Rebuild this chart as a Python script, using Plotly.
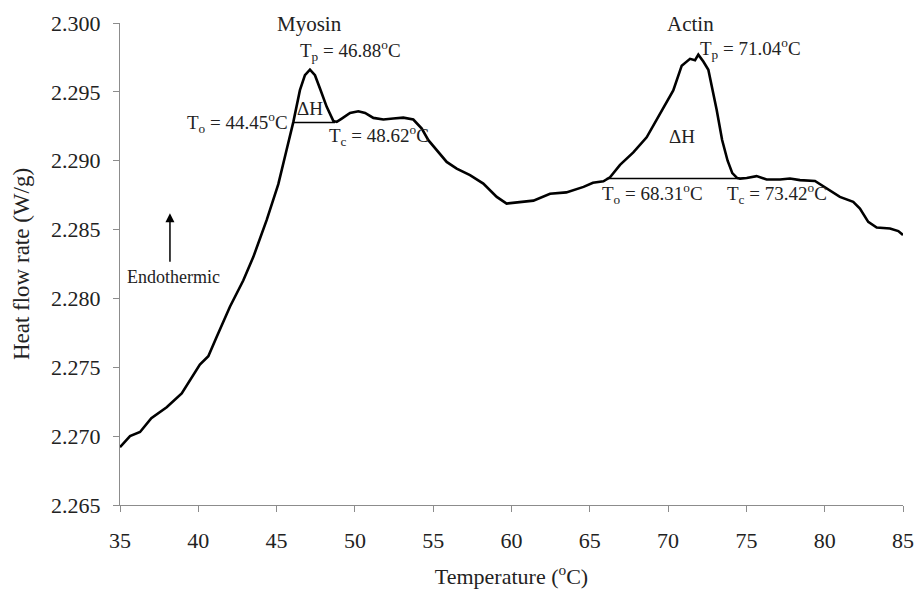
import plotly.graph_objects as go

temperature = [35.0, 35.64, 36.28, 37.0, 37.98, 38.94, 40.1, 40.64, 41.17, 42.02, 42.87, 43.51,
               44.37, 44.58, 45.11, 45.64, 46.07, 46.49, 46.81, 47.13, 47.45, 47.77, 48.2,
               48.62, 48.84, 49.16, 49.69, 50.22, 50.65, 51.18, 51.82, 52.45, 53.09, 53.73,
               54.27, 54.69, 55.22, 55.86, 56.5, 57.35, 58.2, 59.06, 59.69, 60.54, 61.4, 62.46,
               63.5, 64.6, 65.2, 65.87, 66.29, 66.93, 67.78, 68.63, 69.48, 70.33, 70.87, 71.4,
               71.72, 71.93, 72.25, 72.57, 73.1, 73.45, 73.8, 74.1, 74.4, 74.59, 75.02,
               75.65, 76.29, 77.15, 77.78, 78.42, 79.38, 80.12, 80.97, 81.82, 82.25, 82.78,
               83.32, 84.17, 84.7, 85.0]
heat_flow = [2.2692, 2.2700, 2.2703, 2.2713, 2.2721, 2.2731, 2.2752, 2.2758, 2.2772, 2.2794,
             2.2813, 2.2830, 2.2857, 2.2864, 2.2883, 2.2908, 2.29282, 2.29512,
             2.29621, 2.29661, 2.29621, 2.29524, 2.29391, 2.29289, 2.29282, 2.29306, 2.29347,
             2.29359, 2.29347, 2.29311, 2.29299, 2.29306, 2.29313, 2.29299, 2.29234, 2.29149,
             2.29076, 2.28991, 2.28943, 2.28895, 2.28834, 2.28737, 2.28689, 2.28701, 2.2871,
             2.2876, 2.2877, 2.2881, 2.2884, 2.2885, 2.2888, 2.2897, 2.2906, 2.2917, 2.2934,
             2.2951, 2.2969, 2.2974, 2.2973, 2.2977, 2.2972, 2.2966, 2.2937, 2.2915,
             2.2900, 2.2891, 2.28875, 2.2887, 2.28875, 2.28888, 2.28864, 2.28864, 2.28871,
             2.28859, 2.28853, 2.28798, 2.28737, 2.28701, 2.28653, 2.28556, 2.28515, 2.28508,
             2.28489, 2.2846]

myosin_baseline_x = [46.07, 48.73]
myosin_baseline_y = [2.29278, 2.29278]
actin_baseline_x = [66.07, 74.5]
actin_baseline_y = [2.28871, 2.28871]

x_ticks = [35, 40, 45, 50, 55, 60, 65, 70, 75, 80, 85]
y_ticks = [2.265, 2.270, 2.275, 2.280, 2.285, 2.290, 2.295, 2.300]
y_tick_labels = ["2.265", "2.270", "2.275", "2.280", "2.285", "2.290", "2.295", "2.300"]

FONT = "Liberation Serif"
TXT = "#222222"

fig = go.Figure()
fig.add_trace(go.Scatter(x=temperature, y=heat_flow, mode="lines",
                         line=dict(color="black", width=2.6), showlegend=False))
fig.add_trace(go.Scatter(x=myosin_baseline_x, y=myosin_baseline_y, mode="lines",
                         line=dict(color="black", width=1.6), showlegend=False))
fig.add_trace(go.Scatter(x=actin_baseline_x, y=actin_baseline_y, mode="lines",
                         line=dict(color="black", width=1.6), showlegend=False))

def txt(x, y, s, size=19, xanchor="center"):
    fig.add_annotation(x=x, y=y, text=s, showarrow=False, xanchor=xanchor, yanchor="middle",
                       font=dict(family=FONT, size=size, color=TXT))

txt(47.09, 2.2999, "Myosin", 21)
txt(49.69, 2.29798, "T<sub>p</sub> = 46.88<sup>o</sup>C")
txt(45.86, 2.29278, "T<sub>o</sub> = 44.45<sup>o</sup>C", xanchor="right")
txt(47.13, 2.29379, "ΔH")
txt(48.2, 2.29185, "T<sub>c</sub> = 48.62<sup>o</sup>C", xanchor="left")
txt(71.4, 2.2999, "Actin", 21)
txt(71.93, 2.29814, "T<sub>p</sub> = 71.04<sup>o</sup>C", xanchor="left")
txt(70.87, 2.29178, "ΔH")
txt(69.0, 2.28762, "T<sub>o</sub> = 68.31<sup>o</sup>C")
txt(76.93, 2.28762, "T<sub>c</sub> = 73.42<sup>o</sup>C")
txt(38.4, 2.28155, "Endothermic", 18)

fig.add_annotation(x=38.19, y=2.28619, ax=38.19, ay=2.28256, xref="x", yref="y",
                   axref="x", ayref="y", text="", showarrow=True, arrowhead=2,
                   arrowsize=1.2, arrowwidth=1.5, arrowcolor="black")

axis_common = dict(showline=True, linecolor="#8c8c8c", linewidth=1.2, ticks="outside",
                   ticklen=6, tickcolor="#8c8c8c", showgrid=False, zeroline=False,
                   automargin=False, tickfont=dict(family=FONT, size=22, color=TXT))
fig.update_xaxes(range=[35, 85], tickvals=x_ticks, ticklabelstandoff=9,
                 title=dict(text="Temperature (<sup>o</sup>C)",
                            font=dict(family=FONT, size=22, color=TXT), standoff=17),
                 **axis_common)
fig.update_yaxes(range=[2.265, 2.300], tickvals=y_ticks, ticktext=y_tick_labels,
                 ticklabelstandoff=8,
                 title=dict(text="Heat flow rate (W/g)",
                            font=dict(family=FONT, size=23, color=TXT), standoff=14),
                 **axis_common)

fig.update_layout(width=917, height=589, margin=dict(l=120, r=14, t=23, b=84),
                  plot_bgcolor="white", paper_bgcolor="white", showlegend=False)

fig.write_html("out.html", config={"displayModeBar": False},
               post_script="document.body.style.margin='0';")
